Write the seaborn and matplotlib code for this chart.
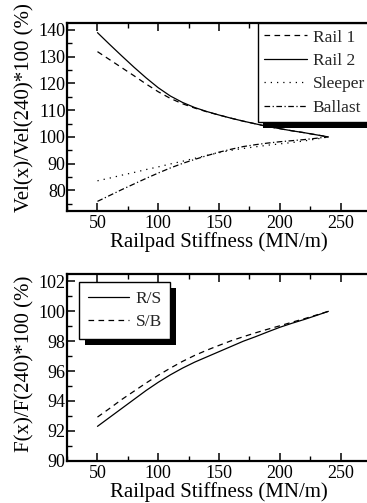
import numpy as np
import pandas as pd
import matplotlib
matplotlib.use("Agg")
import matplotlib.pyplot as plt
import seaborn as sns
from matplotlib.patches import Rectangle
from matplotlib.transforms import IdentityTransform
from matplotlib.ticker import MultipleLocator

# ---- data ----
stiffness = [50, 60, 70, 80, 90, 100, 110, 120, 130, 140, 150, 160, 170, 180,
             190, 200, 210, 220, 230, 240]
rail1 = [131.9, 128.9, 125.9, 122.9, 119.8, 116.9, 114.4, 112.4, 110.8, 109.4,
         108.2, 107.0, 105.9, 104.9, 103.9, 103.1, 102.3, 101.6, 100.8, 100.0]
rail2 = [139.0, 134.6, 130.3, 126.1, 122.1, 118.4, 115.3, 112.9, 111.0, 109.5,
         108.2, 107.0, 105.9, 104.9, 103.9, 103.1, 102.3, 101.6, 100.8, 100.0]
sleeper = [83.6, 84.6, 85.7, 86.7, 87.8, 88.8, 89.9, 90.9, 92.0, 93.1,
           94.1, 95.0, 95.7, 96.3, 96.9, 97.4, 97.9, 98.5, 99.2, 100.0]
ballast = [75.9, 78.1, 80.3, 82.4, 84.5, 86.5, 88.4, 90.1, 91.6, 93.0,
           94.3, 95.4, 96.4, 97.1, 97.7, 98.2, 98.6, 99.0, 99.5, 100.0]
rs = [92.3, 92.9, 93.5, 94.1, 94.7, 95.25, 95.75, 96.2, 96.6, 96.95,
      97.3, 97.65, 98.0, 98.3, 98.62, 98.93, 99.2, 99.45, 99.72, 100.0]
sb = [92.92, 93.5, 94.1, 94.65, 95.2, 95.72, 96.2, 96.65, 97.05, 97.4,
      97.72, 98.03, 98.3, 98.56, 98.8, 99.03, 99.27, 99.5, 99.75, 100.0]
top_labels = ["Rail 1", "Rail 2", "Sleeper", "Ballast"]
bot_labels = ["R/S", "S/B"]
xticks = [50, 100, 150, 200, 250]

sns.set_theme(style="ticks")
plt.rcParams["font.family"] = ["Liberation Serif", "DejaVu Serif"]

W, H = 367, 503
fig = plt.figure(figsize=(W / 100, H / 100), dpi=100)

def px_axes(left, top, right, bottom):
    return fig.add_axes([left / W, 1 - bottom / H, (right - left) / W, (bottom - top) / H])

ax1 = px_axes(67.1, 23.3, 370.9, 211.0)
ax2 = px_axes(67.1, 274.0, 370.9, 460.7)

lw = 0.9
styles_top = [(0, (4.5, 3.5)), "solid", (0, (1, 4)), (0, (4.5, 2, 1, 2))]
for vals, ls in zip([rail1, rail2, sleeper, ballast], styles_top):
    sns.lineplot(x=stiffness, y=vals, ax=ax1, color="black", linewidth=lw,
                 linestyle=ls, legend=False)
styles_bot = ["solid", (0, (4.5, 3.5))]
for vals, ls in zip([rs, sb], styles_bot):
    sns.lineplot(x=stiffness, y=vals, ax=ax2, color="black", linewidth=lw,
                 linestyle=ls, legend=False)

for ax in (ax1, ax2):
    ax.set_xlim(25, 275)
    ax.set_xticks(xticks)
    ax.xaxis.set_minor_locator(MultipleLocator(25))
    for s in ax.spines.values():
        s.set_linewidth(1.6)
        s.set_color("black")
    ax.spines["right"].set_visible(False)
    ax.tick_params(which="both", direction="in", top=True, right=False,
                   color="black", labelcolor="black", labelsize=13)
    ax.tick_params(which="major", length=6, width=1.1)
    ax.tick_params(which="minor", length=3.5, width=1.0)
    ax.tick_params(axis="y", pad=1)
    ax.tick_params(axis="x", pad=3)
    ax.set_xlabel("Railpad Stiffness (MN/m)", fontsize=15, labelpad=0, color="black")
    ax.set_facecolor("white")

ax1.set_ylim(72.3, 142.5)
ax1.set_yticks([80, 90, 100, 110, 120, 130, 140])
ax1.yaxis.set_minor_locator(MultipleLocator(5))
ax1.set_ylabel("Vel(x)/Vel(240)*100 (%)", fontsize=15, color="black")
ax1.yaxis.set_label_coords(-0.106, 0.551)

ax2.set_ylim(90, 102.5)
ax2.set_yticks([90, 92, 94, 96, 98, 100, 102])
ax2.yaxis.set_minor_locator(MultipleLocator(1))
ax2.set_ylabel("F(x)/F(240)*100 (%)", fontsize=15, color="black")
ax2.yaxis.set_label_coords(-0.106, 0.52)

leg1 = ax1.legend(ax1.get_lines(), top_labels, loc="upper right",
                  bbox_to_anchor=(1.0, 1.0), borderaxespad=0, fontsize=12.5,
                  frameon=True, fancybox=False, framealpha=1, edgecolor="black",
                  handlelength=2.5, handletextpad=0.3, labelspacing=0.42,
                  borderpad=0.35)
leg1.get_frame().set_linewidth(1.0)

leg2 = ax2.legend(ax2.get_lines(), bot_labels, loc="upper left",
                  bbox_to_anchor=((79 - 67.1) / 303.8, 1 - (282 - 274) / 186.7),
                  borderaxespad=0, fontsize=12.5, frameon=True, fancybox=False,
                  framealpha=1, edgecolor="black", handlelength=2.4,
                  handletextpad=0.35, labelspacing=0.42, borderpad=0.5)
leg2.get_frame().set_linewidth(1.0)

fig.canvas.draw()
renderer = fig.canvas.get_renderer()
for ax, leg, (ox, oy) in ((ax1, leg1, (5, -6)), (ax2, leg2, (6, -6))):
    bb = leg.get_frame().get_window_extent(renderer)
    ax.add_patch(Rectangle((bb.x0 + ox, bb.y0 + oy), bb.width, bb.height,
                           transform=IdentityTransform(), facecolor="black",
                           edgecolor="none", zorder=4.9, clip_on=False))

fig.savefig("out.png", dpi=100, facecolor="white")
